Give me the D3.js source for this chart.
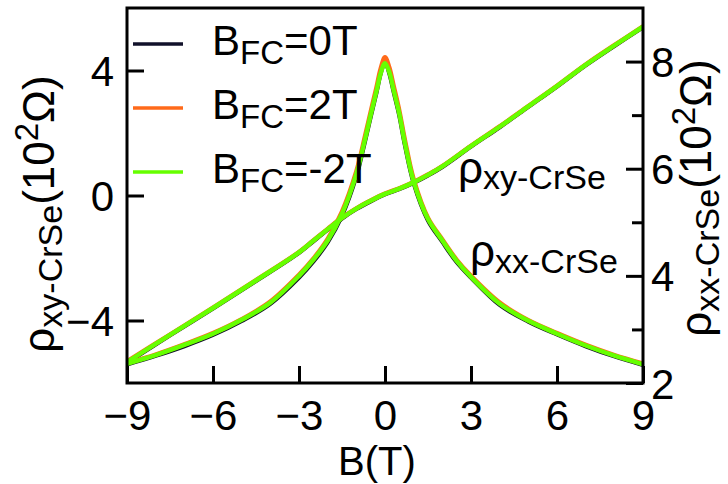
<!DOCTYPE html>
<html>
<head>
<meta charset="utf-8">
<script src="https://cdn.jsdelivr.net/npm/d3@7"></script>
<style>
  body { margin: 0; background: #fff; }
  text { font-family: "Liberation Sans", Arial, Helvetica, sans-serif; fill: #000; }
</style>
</head>
<body>
<svg id="chart" width="728" height="484"></svg>
<script>
// Magnetic field sweep for the longitudinal resistivity (T)
const fieldXX = [-9, -8, -7, -6, -5, -4, -3, -2.5, -2, -1.5, -1, -0.7, -0.5, -0.3, -0.15, 0,
                 0.15, 0.3, 0.5, 0.7, 1, 1.5, 2, 2.5, 3, 4, 5, 6, 7, 8, 9];
// rho_xx (10^2 Ohm) for each field-cooling condition
const rhoXX_0T  = [2.35, 2.51, 2.69, 2.90, 3.16, 3.48, 3.97, 4.27, 4.63, 5.13, 5.87, 6.52, 6.98, 7.43, 7.79, 8.00,
                   7.79, 7.45, 7.00, 6.44, 5.74, 5.04, 4.64, 4.26, 3.97, 3.46, 3.15, 2.91, 2.69, 2.50, 2.34];
const rhoXX_2T  = [2.37, 2.53, 2.72, 2.93, 3.19, 3.52, 4.02, 4.32, 4.69, 5.20, 5.95, 6.60, 7.06, 7.51, 7.87, 8.08,
                   7.89, 7.55, 7.08, 6.52, 5.80, 5.08, 4.68, 4.30, 4.00, 3.50, 3.17, 2.93, 2.71, 2.52, 2.36];
const rhoXX_m2T = [2.36, 2.52, 2.71, 2.92, 3.18, 3.50, 4.00, 4.30, 4.66, 5.16, 5.90, 6.54, 7.00, 7.44, 7.78, 7.97,
                   7.80, 7.47, 7.02, 6.46, 5.76, 5.06, 4.66, 4.28, 3.98, 3.48, 3.16, 2.92, 2.70, 2.51, 2.35];

// Magnetic field sweep for the Hall resistivity (T)
const fieldXY = [-9, -7.5, -6, -4.5, -3, -2.5, -2, -1.5, -1, -0.5, 0, 0.5, 1, 1.5, 2, 3, 4, 5, 6, 7, 8, 9];
// rho_xy (10^2 Ohm) for each field-cooling condition
const rhoXY_0T  = [-5.35, -4.47, -3.61, -2.73, -1.83, -1.46, -1.09, -0.73, -0.43, -0.18, 0.04,
                   0.21, 0.41, 0.65, 0.92, 1.57, 2.19, 2.84, 3.49, 4.17, 4.79, 5.39];
const rhoXY_2T  = [-5.31, -4.45, -3.59, -2.71, -1.81, -1.44, -1.07, -0.71, -0.41, -0.16, 0.06,
                   0.23, 0.43, 0.67, 0.94, 1.59, 2.21, 2.86, 3.51, 4.19, 4.81, 5.41];
const rhoXY_m2T = [-5.33, -4.46, -3.60, -2.72, -1.82, -1.45, -1.08, -0.72, -0.42, -0.17, 0.05,
                   0.22, 0.42, 0.66, 0.93, 1.58, 2.20, 2.85, 3.50, 4.18, 4.80, 5.40];

// Series names (field-cooling field) and colours
const seriesNames  = ["0T", "2T", "-2T"];
const seriesColors = ["#11112a", "#ff6a1a", "#66ff00"];

// Axis ticks
const xTicks          = [-9, -6, -3, 0, 3, 6, 9];
const leftTicks       = [-4, 0, 4];
const rightTicks      = [2, 4, 6, 8];
const rightMinorTicks = [3, 5, 7];

const svg = d3.select("#chart");
svg.append("rect").attr("width", 728).attr("height", 484).attr("fill", "#fff");

const L = 127, R = 643, T = 8, B = 383;
const x  = d3.scaleLinear().domain([-9, 9]).range([L, R]);
const yL = d3.scaleLinear().domain([-6, 6]).range([B, T]);
const yR = d3.scaleLinear().domain([2, 9]).range([B, T]);

const fmt = d3.format("d");
const FS = 42, FSsmall = 33;

function styleAxis(g) {
  g.attr("font-size", null).attr("font-family", null);
  g.select(".domain").remove();
  g.selectAll(".tick line").attr("stroke", "#000").attr("stroke-width", 3);
  g.selectAll(".tick text").attr("font-size", FS).attr("dy", null);
}

// Bottom axis
const gx = svg.append("g").attr("transform", `translate(0,${B})`)
  .call(d3.axisBottom(x).tickValues(xTicks).tickSizeInner(-17).tickSizeOuter(0).tickFormat(fmt));
styleAxis(gx);
gx.selectAll(".tick text").attr("y", 47);

// Left axis (rho_xy)
const gl = svg.append("g").attr("transform", `translate(${L},0)`)
  .call(d3.axisLeft(yL).tickValues(leftTicks).tickSizeInner(-17).tickSizeOuter(0).tickFormat(fmt));
styleAxis(gl);
gl.selectAll(".tick text").attr("x", -13).attr("y", 15);

// Right axis (rho_xx)
const gr = svg.append("g").attr("transform", `translate(${R},0)`)
  .call(d3.axisRight(yR).tickValues(rightTicks).tickSizeInner(-17).tickSizeOuter(0).tickFormat(fmt));
styleAxis(gr);
gr.selectAll(".tick text").attr("x", 8).attr("y", 15);
const grm = svg.append("g").attr("transform", `translate(${R},0)`)
  .call(d3.axisRight(yR).tickValues(rightMinorTicks).tickSizeInner(-11).tickSizeOuter(0).tickFormat(""));
styleAxis(grm);

// Curves
svg.append("clipPath").attr("id", "plotClip")
  .append("rect").attr("x", L).attr("y", T).attr("width", R - L).attr("height", B - T);
const plot = svg.append("g").attr("clip-path", "url(#plotClip)");

const xxSeries = [rhoXX_0T, rhoXX_2T, rhoXX_m2T];
const xySeries = [rhoXY_0T, rhoXY_2T, rhoXY_m2T];
const smooth = d3.curveCatmullRom.alpha(0.5);
const lineXX = d3.line().x((d, i) => x(fieldXX[i])).y(d => yR(d)).curve(smooth);
const lineXY = d3.line().x((d, i) => x(fieldXY[i])).y(d => yL(d)).curve(smooth);

seriesNames.forEach((name, k) => {
  plot.append("path").datum(xySeries[k]).attr("d", lineXY)
    .attr("fill", "none").attr("stroke", seriesColors[k]).attr("stroke-width", 4.5)
    .attr("stroke-linejoin", "round");
  plot.append("path").datum(xxSeries[k]).attr("d", lineXX)
    .attr("fill", "none").attr("stroke", seriesColors[k]).attr("stroke-width", 4.5)
    .attr("stroke-linejoin", "round");
});

// Frame
svg.append("rect").attr("x", L).attr("y", T).attr("width", R - L).attr("height", B - T)
  .attr("fill", "none").attr("stroke", "#000").attr("stroke-width", 3);

// Text with sub/superscripts
function rich(textSel, parts) {
  parts.forEach(p => {
    textSel.append("tspan").attr("font-size", p.s).attr("dy", p.dy || 0).text(p.t);
  });
  return textSel;
}

// Legend
const legend = svg.append("g");
seriesNames.forEach((name, k) => {
  const cy = 44 + k * 64;
  legend.append("line").attr("x1", 133).attr("x2", 183).attr("y1", cy).attr("y2", cy)
    .attr("stroke", seriesColors[k]).attr("stroke-width", 3.5);
  rich(legend.append("text").attr("x", 212).attr("y", cy + 11), [
    { t: "B", s: FS }, { t: "FC", s: FSsmall, dy: 9 }, { t: "=" + name, s: FS, dy: -9 }
  ]);
});

// Curve annotations
rich(svg.append("text").attr("x", 458).attr("y", 183), [
  { t: "ρ", s: FS + 2 }, { t: "xy-CrSe", s: FSsmall + 1, dy: 6 }
]);
rich(svg.append("text").attr("x", 470).attr("y", 266), [
  { t: "ρ", s: FS + 2 }, { t: "xx-CrSe", s: FSsmall + 1, dy: 7 }
]);

// Axis titles
svg.append("text").attr("x", x(0) - 8).attr("y", 475).attr("text-anchor", "middle")
  .attr("font-size", 40).text("B(T)");

function axisTitle(tx, ty, sub) {
  const t = svg.append("text").attr("transform", `translate(${tx},${ty}) rotate(-90)`)
    .attr("text-anchor", "middle");
  rich(t, [
    { t: "ρ", s: FS + 2 }, { t: sub, s: FSsmall + 1, dy: 8 }, { t: "(10", s: FS + 2, dy: -8 },
    { t: "2", s: FSsmall, dy: -16 }, { t: "Ω)", s: FS + 2, dy: 16 }
  ]);
}
axisTitle(54, 214, "xy-CrSe");
axisTitle(711, 198, "xx-CrSe");
</script>
</body>
</html>
